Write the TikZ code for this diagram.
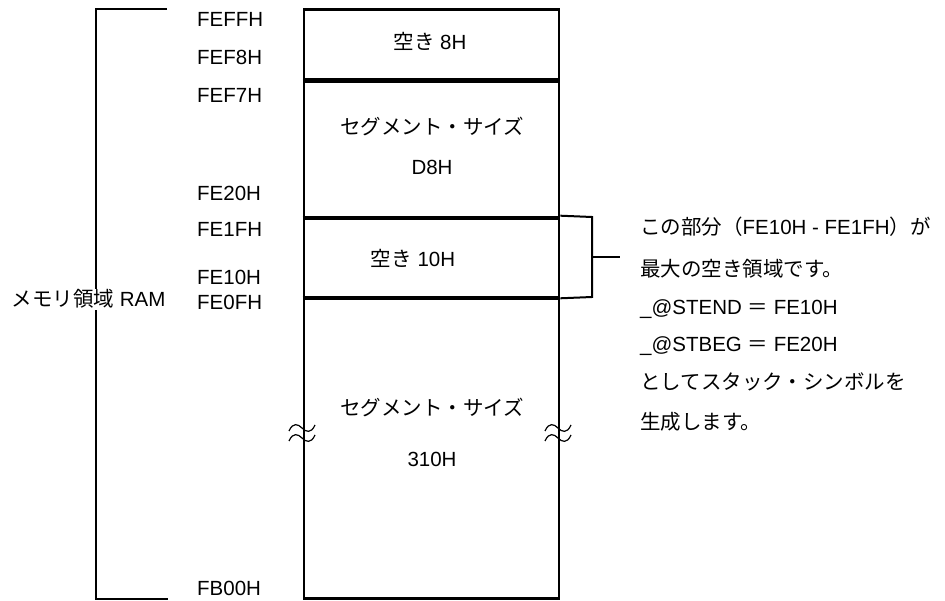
\documentclass[tikz,border=0pt]{standalone}
\usepackage{fontspec}
\setmainfont{Liberation Sans}
\newfontfamily\cjk{Noto Sans CJK JP}
\begin{document}
\begin{tikzpicture}[x=1pt,y=-1pt,
  txt/.style={font=\fontsize{20.5}{24}\selectfont, inner sep=0pt},
  addr/.style={txt, anchor=base west},
  ctext/.style={txt, anchor=base},
  note/.style={txt, anchor=base west},
  seg/.style={draw, line width=2.6pt, minimum width=255pt, inner sep=0pt},
  sep/.style={line width=3.6pt},
  thin/.style={line width=2pt},
  tildemark/.style={line width=1.2pt}]
\useasboundingbox (0,0) rectangle (945,601);

% memory blocks
\node[seg, minimum height=70pt]  (free8)  at (431.5,44.5) {};
\node[seg, minimum height=137pt] (segD8)  at (431.5,148.5) {};
\node[seg, minimum height=80pt]  (free10) at (431.5,257) {};
\node[seg, minimum height=301pt] (seg310) at (431.5,448) {};
\draw[sep] (free8.south west) -- (free8.south east);
\draw[sep] (segD8.south west) -- (segD8.south east);
\draw[sep] (free10.south west) -- (free10.south east);

% block texts
\node[ctext] (t1) at (430,50) {{\cjk 空き} 8H};
\node[ctext] (t2) at (432,135) {\cjk セグメント・サイズ};
\node[ctext] (t3) at (432,175) {D8H};
\node[ctext] (t4) at (413,267) {{\cjk 空き} 10H};
\node[ctext] (t5) at (432,415) {\cjk セグメント・サイズ};
\node[ctext] (t6) at (432,466) {310H};

% addresses
\node[addr] (a1) at (197,27)  {FEFFH};
\node[addr] (a2) at (197,65)  {FEF8H};
\node[addr] (a3) at (197,103) {FEF7H};
\node[addr] (a4) at (197,201) {FE20H};
\node[addr] (a5) at (197,237) {FE1FH};
\node[addr] (a6) at (197,285) {FE10H};
\node[addr] (a7) at (197,310) {FE0FH};
\node[addr] (a8) at (197,595) {FB00H};

% left bracket
\coordinate (lt) at (167,9.5);
\coordinate (lb) at (168,599);
\draw[thin] (lt) -- (96,9.5) -- (96,599) -- (lb);
\node[txt, fill=white, inner ysep=1pt, anchor=base] (ram) at (88.5,307) {{\cjk メモリ領域} RAM};

% right bracket
\coordinate (bt) at (free10.north east);
\coordinate (bb) at (free10.south east);
\coordinate (stub) at (620,257);
\draw[thin] (bt) -- (592,217) -- (592,297) -- (bb);
\draw[thin] (592,257) -- (stub);

% notes
\node[note] (n1) at (640,235) {{\cjk この部分（}FE10H - FE1FH{\cjk ）が}};
\node[note] (n2) at (640,277) {\cjk 最大の空き領域です。};
\node[note] (n3) at (640,315) {\_@STEND {\cjk ＝} FE10H};
\node[note] (n4) at (640,352) {\_@STBEG {\cjk ＝} FE20H};
\node[note] (n5) at (640,390) {\cjk としてスタック・シンボルを};
\node[note] (n6) at (640,429) {\cjk 生成します。};

% break marks
\foreach \cx in {302,558} {
  \foreach \cy in {428,438} {
    \draw[tildemark] (\cx-13,\cy+3) .. controls (\cx-9,\cy-6) and (\cx-4,\cy-4) .. (\cx,\cy)
      .. controls (\cx+4,\cy+4) and (\cx+9,\cy+6) .. (\cx+13,\cy-3);
  }
}
\end{tikzpicture}
\end{document}
